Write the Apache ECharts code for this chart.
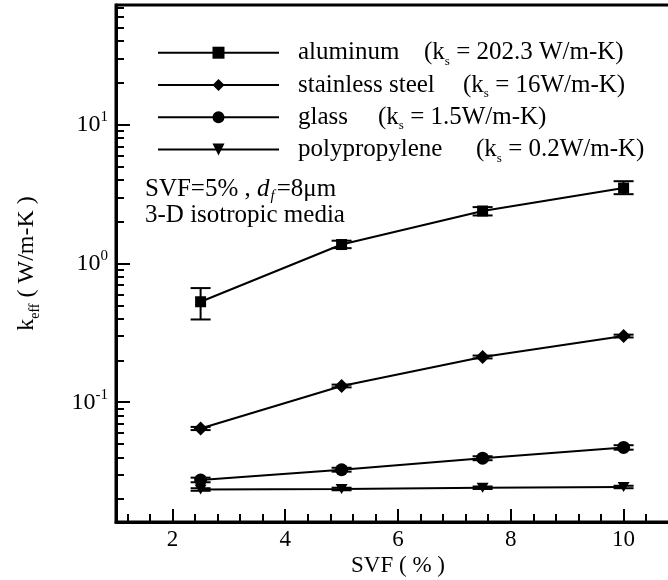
<!DOCTYPE html>
<html>
<head>
<meta charset="utf-8">
<script src="https://cdn.jsdelivr.net/npm/echarts@6/dist/echarts.min.js"></script>
<style>html,body{margin:0;padding:0;background:#fff}#c{width:668px;height:580px}</style>
</head>
<body>
<div id="c"></div>
<script>
// ---- data ----
const svf = [2.5, 5, 7.5, 10];
const aluminum      = [0.53, 1.37, 2.39, 3.50];
const aluminumLow   = [0.395, 1.29, 2.22, 3.16];
const aluminumHigh  = [0.665, 1.46, 2.55, 3.92];
const stainless     = [0.0647, 0.131, 0.212, 0.300];
const stainlessLow  = [0.0630, 0.128, 0.207, 0.293];
const stainlessHigh = [0.0664, 0.134, 0.217, 0.307];
const glass         = [0.0275, 0.0326, 0.0395, 0.0472];
const glassLow      = [0.0265, 0.0316, 0.0382, 0.0455];
const glassHigh     = [0.0286, 0.0337, 0.0408, 0.0490];
const poly          = [0.0235, 0.0237, 0.0242, 0.0245];
const polyLow       = [0.0230, 0.0232, 0.0237, 0.0240];
const polyHigh      = [0.0240, 0.0242, 0.0247, 0.0250];

const seriesNames = ['aluminum', 'stainless steel', 'glass', 'polypropylene'];
const conductivity = ['202.3 W/m-K', '16W/m-K', '1.5W/m-K', '0.2W/m-K'];

const xMin = 1, xMax = 11;
const yMin = 0.0137, yMax = 73;
const xMajorTicks = [2, 4, 6, 8, 10];
const xMinorTicks = [1.2, 1.6, 2.4, 2.8, 3.2, 3.6, 4.4, 4.8, 5.2, 5.6, 6.4, 6.8, 7.2, 7.6, 8.4, 8.8, 9.2, 9.6, 10.4, 10.8];
const yMinorTicks = [0.02, 0.03, 0.04, 0.05, 0.06, 0.07, 0.08, 0.09,
                     0.2, 0.3, 0.4, 0.5, 0.6, 0.7, 0.8, 0.9,
                     2, 3, 4, 5, 6, 7, 8, 9,
                     20, 30, 40, 50, 60, 70];

const FONT = 'Liberation Serif';
const LF = 25; // legend / annotation font size

function pairs(vals) { return svf.map((x, i) => [x, vals[i]]); }

function errorSeries(low, high) {
  return {
    type: 'custom',
    xAxisIndex: 0, yAxisIndex: 0,
    silent: true, z: 2,
    data: svf.map((x, i) => [x, low[i], high[i]]),
    encode: { x: 0, y: [1, 2] },
    renderItem: function (params, api) {
      const x = api.value(0);
      const p1 = api.coord([x, api.value(1)]);
      const p2 = api.coord([x, api.value(2)]);
      const hw = 10;
      const st = { stroke: '#000', lineWidth: 2 };
      return {
        type: 'group',
        children: [
          { type: 'line', shape: { x1: p1[0], y1: p1[1], x2: p2[0], y2: p2[1] }, style: st },
          { type: 'line', shape: { x1: p1[0] - hw, y1: p1[1], x2: p1[0] + hw, y2: p1[1] }, style: st },
          { type: 'line', shape: { x1: p2[0] - hw, y1: p2[1], x2: p2[0] + hw, y2: p2[1] }, style: st }
        ]
      };
    }
  };
}

function lineSeries(name, vals, symbol, size, rotate) {
  return {
    type: 'line', name: name,
    xAxisIndex: 0, yAxisIndex: 0,
    data: pairs(vals),
    symbol: symbol, symbolSize: size, symbolRotate: rotate || 0,
    showSymbol: true,
    lineStyle: { color: '#000', width: 2 },
    itemStyle: { color: '#000' },
    z: 3
  };
}

const nameWidths = [126, 165, 80, 178];

const chart = echarts.init(document.getElementById('c'), null, { renderer: 'canvas' });
chart.setOption({
  animation: false,
  backgroundColor: '#fff',
  textStyle: { fontFamily: FONT, color: '#000' },
  grid: {
    left: 116, top: 5, right: -12, bottom: 58,
    show: true, borderColor: '#000', borderWidth: 3,
    outerBoundsMode: 'none', containLabel: false
  },
  legend: {
    data: seriesNames,
    orient: 'vertical',
    left: 157, top: 37.7,
    padding: 0,
    itemWidth: 121, itemHeight: 15, itemGap: 2.3,
    formatter: function (name) {
      const i = seriesNames.indexOf(name);
      return '{g| }{n' + i + '|' + name + '}{p|(k}{s|s}{p| = ' + conductivity[i] + ')}';
    },
    textStyle: {
      fontFamily: FONT, fontSize: LF, color: '#000', lineHeight: 30,
      rich: {
        g: { width: 14, fontSize: LF, lineHeight: 30 },
        n0: { width: nameWidths[0], fontSize: LF, lineHeight: 30, fontFamily: FONT },
        n1: { width: nameWidths[1], fontSize: LF, lineHeight: 30, fontFamily: FONT },
        n2: { width: nameWidths[2], fontSize: LF, lineHeight: 30, fontFamily: FONT },
        n3: { width: nameWidths[3], fontSize: LF, lineHeight: 30, fontFamily: FONT },
        p: { fontSize: LF, lineHeight: 30, fontFamily: FONT },
        s: { fontSize: 13, lineHeight: 13, verticalAlign: 'bottom', fontFamily: FONT }
      }
    }
  },
  xAxis: [
    {
      type: 'value', min: xMin, max: xMax, position: 'bottom',
      name: 'SVF ( % )', nameLocation: 'middle', nameGap: 32, nameMoveOverlap: false,
      nameTextStyle: { fontFamily: FONT, fontSize: 23, color: '#000' },
      axisLine: { show: true, onZero: false, lineStyle: { color: '#000', width: 3 } },
      axisTick: { show: true, inside: true, length: 13, customValues: xMajorTicks, lineStyle: { color: '#000', width: 2 } },
      axisLabel: { show: true, customValues: xMajorTicks, margin: 6, fontFamily: FONT, fontSize: 23, color: '#000' },
      splitLine: { show: false }
    },
    {
      type: 'value', min: xMin, max: xMax, position: 'bottom', offset: 0,
      axisLine: { show: false, onZero: false },
      axisTick: { show: true, inside: true, length: 8, customValues: xMinorTicks, lineStyle: { color: '#000', width: 2 } },
      axisLabel: { show: false },
      splitLine: { show: false }
    }
  ],
  yAxis: [
    {
      type: 'log', logBase: 10, min: yMin, max: yMax, position: 'left',
      name: '{k|k}{sub|eff}{t| ( W/m-K )}', nameLocation: 'middle', nameGap: 74, nameRotate: 90, nameMoveOverlap: false,
      nameTextStyle: {
        fontFamily: FONT, fontSize: 24, color: '#000',
        rich: {
          k: { fontFamily: FONT, fontSize: 24, lineHeight: 30 },
          t: { fontFamily: FONT, fontSize: 24, lineHeight: 30 },
          sub: { fontFamily: FONT, fontSize: 14, lineHeight: 14, verticalAlign: 'bottom' }
        }
      },
      axisLine: { show: true, onZero: false, lineStyle: { color: '#000', width: 3 } },
      axisTick: { show: true, inside: true, length: 14, lineStyle: { color: '#000', width: 2 } },
      axisLabel: {
        show: true, margin: 8, showMinLabel: false, showMaxLabel: false,
        formatter: function (v) {
          const e = Math.log10(v);
          const r = Math.round(e);
          if (Math.abs(e - r) > 1e-6) return '';
          return '{b|10}{sup|' + r + '}';
        },
        rich: {
          b: { fontFamily: FONT, fontSize: 24, lineHeight: 30, color: '#000' },
          sup: { fontFamily: FONT, fontSize: 15, lineHeight: 15, verticalAlign: 'top', color: '#000' }
        }
      },
      splitLine: { show: false },
      minorTick: { show: false }
    },
    {
      type: 'value', min: Math.log10(yMin), max: Math.log10(yMax), position: 'left', offset: 0,
      axisLine: { show: false, onZero: false },
      axisTick: { show: true, inside: true, length: 8, customValues: yMinorTicks.map(Math.log10), lineStyle: { color: '#000', width: 2 } },
      axisLabel: { show: false },
      splitLine: { show: false }
    }
  ],
  graphic: [
    {
      type: 'text', x: 145, y: 189, silent: true,
      style: {
        text: '{t|SVF=5% , }{i|d}{f|f}{t|=8μm}',
        verticalAlign: 'middle', align: 'left',
        rich: {
          t: { fontFamily: FONT, fontSize: LF, lineHeight: 30, fill: '#000' },
          i: { fontFamily: FONT, fontSize: LF, lineHeight: 30, fontStyle: 'italic', fill: '#000' },
          f: { fontFamily: FONT, fontSize: 15, lineHeight: 15, fontStyle: 'italic', verticalAlign: 'bottom', fill: '#000', padding: [0, 2, 0, 1] }
        }
      }
    },
    {
      type: 'text', x: 145, y: 215, silent: true,
      style: {
        text: '3-D isotropic media',
        verticalAlign: 'middle', align: 'left',
        font: LF + 'px "' + FONT + '"', fill: '#000'
      }
    }
  ],
  series: [
    errorSeries(aluminumLow, aluminumHigh),
    errorSeries(stainlessLow, stainlessHigh),
    errorSeries(glassLow, glassHigh),
    errorSeries(polyLow, polyHigh),
    lineSeries('aluminum', aluminum, 'rect', 11),
    lineSeries('stainless steel', stainless, 'diamond', 14),
    lineSeries('glass', glass, 'circle', 13),
    lineSeries('polypropylene', poly, 'triangle', [12, 10], 180)
  ]
});
</script>
</body>
</html>
